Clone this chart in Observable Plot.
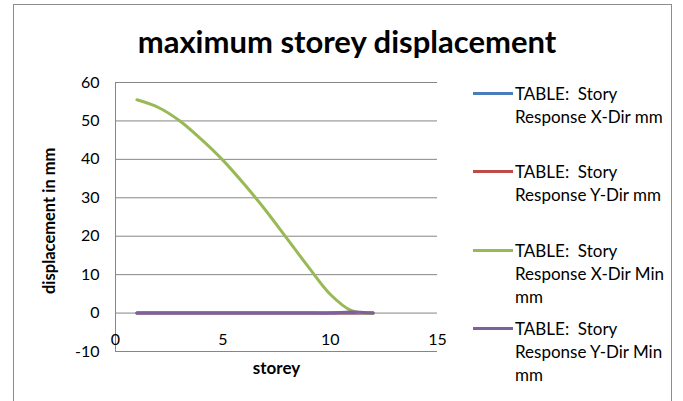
<!DOCTYPE html>
<html>
<head>
<meta charset="utf-8">
<script src="https://cdn.jsdelivr.net/npm/d3@7"></script>
<script src="https://cdn.jsdelivr.net/npm/@observablehq/plot@0.6"></script>
<style>
  html, body { margin: 0; padding: 0; background: #fff; overflow: hidden; }
  #wrap { position: relative; width: 683px; height: 401px; overflow: hidden; font-family: Lato, "Open Sans", sans-serif; }
  #frame { position: absolute; left: 13px; top: 4px; width: 659px; height: 430px; border: 1px solid #8c8c8c; box-sizing: border-box; }
  #title { position: absolute; left: 0; width: 694px; top: 23px; line-height: 36px; text-align: center; font-weight: bold; font-size: 31px; color: #000; white-space: nowrap; }
  #chart { position: absolute; left: 0; top: 0; }
  .leg { position: absolute; left: 473px; font-size: 17px; line-height: 23px; color: #000; }
  .leg .sw { position: absolute; left: 0; top: 10px; width: 40px; height: 3px; }
  .leg .tx { position: absolute; left: 42px; top: 0; white-space: nowrap; }
</style>
</head>
<body>
<div id="wrap">
  <div id="frame"></div>
  <div id="chart"></div>
  <div id="title">maximum storey displacement</div>
  <div id="legend"></div>
</div>
<script>
// ---- data ----
const storeys = [1, 2, 3, 4, 5, 6, 7, 8, 9, 10, 11, 12];
const xDirMm    = [0, 0, 0, 0, 0, 0, 0, 0, 0, 0, 0, 0];
const yDirMm    = [0, 0, 0, 0, 0, 0, 0, 0, 0, 0, 0, 0];
const xDirMinMm = [55.5, 53.5, 50.0, 45.2, 39.8, 33.5, 26.7, 19.3, 11.9, 4.9, 0.6, 0.0];
const yDirMinMm = [0, 0, 0, 0, 0, 0, 0, 0, 0, 0, 0.3, 0];
const seriesNames = [
  ["TABLE:  Story", "Response X-Dir mm"],
  ["TABLE:  Story", "Response Y-Dir mm"],
  ["TABLE:  Story", "Response X-Dir Min", "mm"],
  ["TABLE:  Story", "Response Y-Dir Min", "mm"]
];
const seriesColors = ["#4a7ebb", "#be4b48", "#98b954", "#7d60a0"];
const xTicks = [0, 5, 10, 15];
const yTicks = [-10, 0, 10, 20, 30, 40, 50, 60];

const seriesValues = [xDirMm, yDirMm, xDirMinMm, yDirMinMm];
const rows = [];
seriesValues.forEach((vals, si) => {
  storeys.forEach((s, i) => rows.push({series: si, storey: s, value: vals[i]}));
});

const font = "Lato, 'Open Sans', sans-serif";
const chart = Plot.plot({
  width: 683,
  height: 401,
  marginLeft: 115,
  marginRight: 246,
  marginTop: 82,
  marginBottom: 50,
  style: { fontFamily: font, fontSize: "16px", color: "#000", background: "transparent" },
  x: { domain: [0, 15] },
  y: { domain: [-10, 60] },
  marks: [
    Plot.ruleY(yTicks, { stroke: "#868686", strokeWidth: 1 }),
    Plot.ruleX([0], { stroke: "#868686", strokeWidth: 1 }),
    Plot.axisY({ ticks: yTicks, tickSize: 0, tickPadding: 16, label: null, fontSize: 16, tickFormat: d => String(d) }),
    Plot.axisX({ ticks: xTicks, tickSize: 0, tickPadding: 0, dy: -18, label: null, fontSize: 16, tickFormat: d => String(d) }),
    ...seriesValues.map((_, si) =>
      Plot.line(rows.filter(r => r.series === si), {
        x: "storey", y: "value", stroke: seriesColors[si], strokeWidth: 3, curve: "catmull-rom"
      })
    ),
    Plot.text(["storey"], { frameAnchor: "bottom", dy: 22, x: 7.5, fontWeight: "bold", fontSize: 17, fill: "#000" }),
    Plot.text(["displacement in mm"], { x: 0, y: 24, dx: -66, rotate: -90, fontWeight: "bold", fontSize: 16.5, fill: "#000" })
  ]
});
document.getElementById("chart").appendChild(chart);

// ---- legend ----
const legend = document.getElementById("legend");
const legTops = [82, 160, 239, 317];
seriesNames.forEach((lines, i) => {
  const d = document.createElement("div");
  d.className = "leg";
  d.style.top = legTops[i] + "px";
  const sw = document.createElement("div");
  sw.className = "sw";
  sw.style.background = seriesColors[i];
  const tx = document.createElement("div");
  tx.className = "tx";
  tx.innerHTML = lines.map(l => l.replace(/  /g, "&nbsp; ")).join("<br>");
  d.appendChild(sw); d.appendChild(tx);
  legend.appendChild(d);
});
</script>
</body>
</html>
